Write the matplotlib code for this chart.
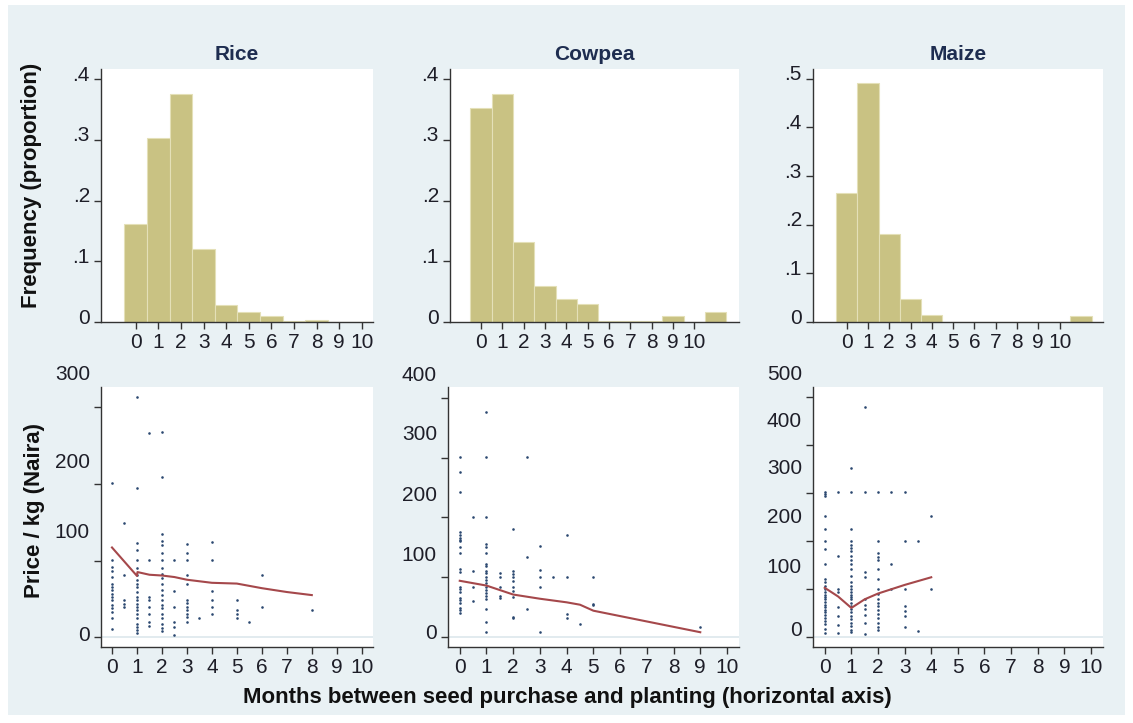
import matplotlib
matplotlib.use("Agg")
import matplotlib.pyplot as plt
import matplotlib.transforms as mtransforms
from matplotlib.patches import Rectangle

plt.rcParams['font.family'] = ['Liberation Sans', 'DejaVu Sans']

crops = ['Rice', 'Cowpea', 'Maize']

# histogram: share of purchases by months before planting (bins centred on integers)
hist_bins = list(range(12))
rice_freq = [0.161, 0.303, 0.375, 0.120, 0.0275, 0.0165, 0.0094, 0.0015, 0.004, 0, 0, 0]
cowpea_freq = [0.353, 0.375, 0.131, 0.060, 0.0385, 0.030, 0.001, 0.001, 0.001, 0.0094, 0, 0.017]
maize_freq = [0.266, 0.492, 0.181, 0.048, 0.015, 0.001, 0.001, 0.001, 0.001, 0, 0, 0.0117]

# scatter: price per kg vs months
rice_x = [0]*16 + [0.5]*5 + [1]*22 + [1.5]*8 + [2]*21 + [2.5]*6 + [3]*12 + [3.5] + [4]*6 + [5]*4 + [5.5] + [6]*2 + [8]
rice_y = [201, 100.6, 92, 87, 79, 70, 66, 61.5, 57, 52, 48.5, 42, 37.7, 33, 24.7, 10.4,
          149.5, 81, 48.5, 44, 40,
          313, 194, 123, 113.6, 100.6, 90, 81, 74.5, 70, 66, 59, 53, 48.5, 44, 40, 35.5, 31, 24.7, 18, 14, 9.5, 5,
          266, 100.6, 53, 48.5, 40, 31, 20, 15,
          267, 209, 135, 126, 120, 110, 100.6, 90, 83, 77, 70, 61.5, 55, 48.5, 42, 37.7, 31, 24.7, 18, 11.7, 8.7,
          100.6, 60, 40, 20, 14, 2.6,
          121, 110, 100.6, 81, 70, 49, 45, 40, 35.5, 31, 26, 20,
          25.6,
          124, 100.6, 60, 49, 39, 30,
          49, 35, 30.5, 25,
          20,
          81, 39,
          35]
rice_fit_x = [0, 1, 1.02, 1.5, 2, 2.5, 3, 4, 5, 6, 7, 8]
rice_fit_y = [117, 80, 85, 81.5, 80.5, 78.5, 75, 71, 70, 64, 59, 55]

cowpea_x = [0]*21 + [0.5]*4 + [1]*21 + [1.5]*5 + [2]*10 + [2.5]*3 + [3]*5 + [3.5] + [4]*4 + [4.5] + [5]*3 + [9]
cowpea_y = [301, 276, 243, 176, 170, 165, 162, 160, 151, 141, 113, 109, 84, 80, 76, 65, 62, 57, 48, 45, 40,
            201, 111, 83, 61,
            377, 301, 201, 156, 150, 141, 122, 118, 111, 107, 100, 95, 90, 84, 79, 73, 68, 64, 47, 25, 8,
            107, 100, 84, 69, 65,
            181, 111, 106, 100, 93, 83, 77, 67, 33, 31,
            301, 134, 46,
            152, 112, 100, 83, 8,
            100,
            171, 100, 39, 32,
            21,
            100, 56, 53,
            17]
cowpea_fit_x = [0, 1, 2, 3, 4, 4.5, 5, 6, 7, 8, 9]
cowpea_fit_y = [94, 86, 71, 64, 58, 54, 44, 35, 26, 17, 8]

maize_x = [0]*27 + [0.5]*8 + [1]*29 + [1.5]*10 + [2]*18 + [2.5]*3 + [3]*7 + [3.5]*2 + [4]*2
maize_y = [302, 298, 293, 251, 225, 199, 182, 151, 121, 114, 106, 100, 94, 88, 83, 78, 72, 67, 62, 56, 51, 46, 39, 33, 26, 17, 8,
           302, 168, 100, 93, 62, 44, 24, 8,
           352, 302, 225, 199, 192, 185, 178, 168, 160, 151, 141, 126, 114, 106, 100, 93, 88, 83, 78, 71, 64, 57, 51, 44, 36, 29, 22, 15, 10,
           480, 302, 135, 125, 78, 67, 57, 46, 29, 5,
           302, 199, 174, 167, 161, 142, 121, 100, 90, 79, 71, 64, 56, 47, 38, 29, 21, 15,
           302, 151, 100,
           302, 199, 100, 64, 53, 43, 21,
           199, 12,
           251, 100]
maize_fit_x = [0, 0.5, 1, 1.5, 2, 3, 4]
maize_fit_y = [102, 84, 60, 78, 90, 108, 124]

month_ticks = list(range(11))
freq_ticks = [[0, .1, .2, .3, .4], [0, .1, .2, .3, .4], [0, .1, .2, .3, .4, .5]]
freq_labels = [['0', '.1', '.2', '.3', '.4'], ['0', '.1', '.2', '.3', '.4'], ['0', '.1', '.2', '.3', '.4', '.5']]
price_ticks = [[0, 100, 200, 300], [0, 100, 200, 300, 400], [0, 100, 200, 300, 400, 500]]

freqs = [rice_freq, cowpea_freq, maize_freq]
scat = [(rice_x, rice_y), (cowpea_x, cowpea_y), (maize_x, maize_y)]
fits = [(rice_fit_x, rice_fit_y), (cowpea_fit_x, cowpea_fit_y), (maize_fit_x, maize_fit_y)]

W, H = 1133, 723
fig = plt.figure(figsize=(W / 100, H / 100), dpi=100)
fig.patch.set_facecolor('white')
fig.patches.append(Rectangle((8 / W, 1 - 715 / H), 1117 / W, 710 / H, transform=fig.transFigure,
                             facecolor='#e9f1f4', edgecolor='none', zorder=-10))

bar_col = '#c9c283'
dot_col = '#2b4870'
fit_col = '#a5484b'
txt_col = '#1e1e28'
title_col = '#1e2d50'

def px_axes(x0, x1, y0, y1):
    return fig.add_axes([x0 / W, 1 - y1 / H, (x1 - x0) / W, (y1 - y0) / H])

def style(ax):
    for s in ['top', 'right']:
        ax.spines[s].set_visible(False)
    for s in ['left', 'bottom']:
        ax.spines[s].set_color('#333333')
        ax.spines[s].set_linewidth(1.0)
    ax.tick_params(direction='out', length=5, width=1, colors='#333333',
                   labelsize=15, labelcolor=txt_col, pad=3)

def shift_labels(ax, offsets_px):
    for lab, dy in zip(ax.get_yticklabels(), offsets_px):
        lab.set_transform(lab.get_transform() +
                          mtransforms.ScaledTranslation(0, dy / 100, fig.dpi_scale_trans))

top_pos = [(101, 373), (450, 739), (813, 1103)]
bot_pos = [(101, 373), (448, 739), (813, 1103)]
top_xlim = [(-1.54, 10.5), (-1.46, 12.1), (-1.58, 12.04)]
top_ylim = [0.4165, 0.4165, 0.52]
bot_ylim = [(-12.6, 326), (-16.7, 418), (-21.5, 521)]
bot_shift = [[4, 30, 23, 34], [6, 24, 24, 25, 24], [8, 23, 25, 26, 25, 25]]

axes_top, axes_bot = [], []
for i, crop in enumerate(crops):
    ax = px_axes(top_pos[i][0], top_pos[i][1], 69, 322)
    style(ax)
    ax.bar(hist_bins, freqs[i], width=1.0, color=bar_col, edgecolor='#e4e0b8', linewidth=0.8)
    ax.set_xlim(*top_xlim[i])
    ax.set_ylim(0, top_ylim[i])
    ax.set_xticks(month_ticks)
    ax.set_xticklabels([str(m) for m in month_ticks])
    ax.set_yticks(freq_ticks[i])
    ax.set_yticklabels(freq_labels[i])
    ax.tick_params(axis='x', labelsize=15)
    fig.text((top_pos[i][0] + top_pos[i][1]) / 2 / W, 1 - 55 / H, crop, ha='center', va='center',
             fontsize=15, fontweight='bold', color=title_col)
    axes_top.append(ax)

    ax = px_axes(bot_pos[i][0], bot_pos[i][1], 387, 647)
    style(ax)
    ax.axhline(0, color='#dde7ec', linewidth=1.2, zorder=0)
    ax.scatter(scat[i][0], scat[i][1], s=3.5, color=dot_col, linewidths=0, zorder=3)
    ax.plot(fits[i][0], fits[i][1], color=fit_col, linewidth=1.5, zorder=4)
    ax.set_xlim(-0.44, 10.45)
    ax.set_ylim(*bot_ylim[i])
    ax.set_xticks(month_ticks)
    ax.set_xticklabels([str(m) for m in month_ticks])
    ax.set_yticks(price_ticks[i])
    ax.set_yticklabels([str(v) for v in price_ticks[i]])
    ax.tick_params(axis='x', labelsize=15)
    axes_bot.append(ax)

for ax in axes_top:
    shift_labels(ax, [6] * 6)
for ax, offs in zip(axes_bot, bot_shift):
    shift_labels(ax, offs)

fig.text(32 / W, 1 - 185 / H, 'Frequency (proportion)', rotation=90, ha='center', va='center',
         fontsize=16, fontweight='bold', color='#111111')
fig.text(35 / W, 1 - 510 / H, 'Price / kg (Naira)', rotation=90, ha='center', va='center',
         fontsize=16, fontweight='bold', color='#111111')
fig.text(567 / W, 1 - 697 / H, 'Months between seed purchase and planting (horizontal axis)',
         ha='center', va='center', fontsize=16, fontweight='bold', color='#111111')

fig.savefig('out.png', dpi=100, facecolor=fig.get_facecolor())
